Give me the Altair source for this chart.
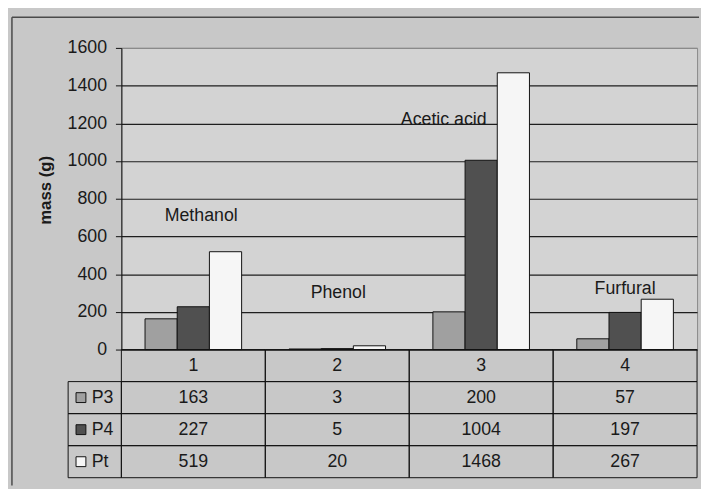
import altair as alt
import pandas as pd

# ---------------- data ----------------
categories = ["1", "2", "3", "4"]
compounds = ["Methanol", "Phenol", "Acetic acid", "Furfural"]
series = ["P3", "P4", "Pt"]
p3 = [163, 3, 200, 57]
p4 = [227, 5, 1004, 197]
pt = [519, 20, 1468, 267]
y_ticks = [0, 200, 400, 600, 800, 1000, 1200, 1400, 1600]

values = {"P3": p3, "P4": p4, "Pt": pt}

# ---------------- styles / layout ----------------
colors = ["#a0a0a0", "#505050", "#f6f6f6"]
FONT = "Arial, Liberation Sans, sans-serif"
TXT = "#1a1a1a"
label_y = {"Methanol": 706, "Phenol": 298, "Acetic acid": 1218, "Furfural": 319}
label_dx = {"Methanol": 8, "Phenol": 1, "Acetic acid": -38, "Furfural": 0}

rows = []
for s in series:
    for c, v in zip(categories, values[s]):
        rows.append({"cat": c, "series": s, "value": v})
bars_df = pd.DataFrame(rows)

color = alt.Color("series:N", scale=alt.Scale(domain=series, range=colors), legend=None)

yscale = alt.Scale(domain=[0, 1600], nice=False)
xband = alt.X("cat:N", sort=categories,
              scale=alt.Scale(domain=categories, paddingInner=0.329, paddingOuter=0.1645),
              axis=None)
yaxis = alt.Axis(values=y_ticks, format="d", labelOverlap=False, tickCount=9,
                 title="mass (g)", titleFontWeight="bold",
                 titleFontSize=17, titleFont=FONT, titleColor=TXT,
                 titleX=-77, titleY=144, titleBaseline="middle",
                 labelFont=FONT, labelFontSize=18, labelColor=TXT,
                 labelPadding=9, tickSize=6, tickColor="#111",
                 domainColor="#111", grid=True,
                 gridColor={"condition": {"test": "datum.value == 1600", "value": "#8a8a8a"},
                            "value": "#1e1e1e"},
                 gridWidth=1.2)

bars = alt.Chart(bars_df).mark_bar(stroke="#111", strokeWidth=1, opacity=1).encode(
    x=xband,
    xOffset=alt.XOffset("series:N", sort=series, scale=alt.Scale(paddingInner=0, paddingOuter=0)),
    y=alt.Y("value:Q", scale=yscale, axis=yaxis),
    color=color,
)

label_layers = []
for c, n in zip(categories, compounds):
    ldf = pd.DataFrame({"cat": [c], "name": [n], "value": [label_y[n]]})
    label_layers.append(
        alt.Chart(ldf).mark_text(dx=label_dx[n], fontSize=18, font=FONT, color=TXT,
                                 baseline="middle").encode(
            x=alt.X("cat:N"), y=alt.Y("value:Q", scale=yscale, axis=yaxis), text="name:N")
    )

# outer chart-area frame (left and top edges)
frame_df = pd.DataFrame({"k": [0]})
frame_left = alt.Chart(frame_df).mark_rule(color="#4a4a4a", strokeWidth=1.5).encode(
    x=alt.value(-111), y=alt.value(-31), y2=alt.value(444))
frame_top = alt.Chart(frame_df).mark_rule(color="#4a4a4a", strokeWidth=1.5).encode(
    x=alt.value(-111), x2=alt.value(586), y=alt.value(-31))

top = alt.layer(bars, *label_layers, frame_left, frame_top).properties(
    width=584, height=306,
    view=alt.ViewBackground(fill="#d3d3d3", stroke="#8a8a8a"),
)

# ---------------- data table ----------------
trows = []
for c in categories:
    trows.append({"cat": c, "row": "hdr", "text": c})
for s in series:
    for c, v in zip(categories, values[s]):
        trows.append({"cat": c, "row": s, "text": str(v)})
table_df = pd.DataFrame(trows)
legend_df = pd.DataFrame({"row": series, "series": series})
row_order = ["hdr"] + series

tx = alt.X("cat:N", sort=categories,
           scale=alt.Scale(domain=categories, paddingInner=0, paddingOuter=0), axis=None)
ty = alt.Y("row:N", sort=row_order,
           scale=alt.Scale(domain=row_order, paddingInner=0, paddingOuter=0), axis=None)

cells = alt.Chart(table_df).mark_rect(fill="transparent", stroke="#111", strokeWidth=1).encode(
    x=tx, y=ty)
cell_text = alt.Chart(table_df).mark_text(fontSize=18, font=FONT, color=TXT).encode(
    x=tx, y=ty, text="text:N")
leg_cells = alt.Chart(legend_df).mark_rect(fill="transparent", stroke="#111", strokeWidth=1).encode(
    x=alt.value(-54), x2=alt.value(0), y=ty)
leg_sw = alt.Chart(legend_df).mark_square(size=100, filled=True, stroke="#111",
                                          strokeWidth=1, opacity=1).encode(
    x=alt.value(-41), y=ty, color=color)
leg_txt = alt.Chart(legend_df).mark_text(align="left", fontSize=18, font=FONT, color=TXT).encode(
    x=alt.value(-30), y=ty, text="series:N")

table = alt.layer(cells, cell_text, leg_cells, leg_sw, leg_txt).properties(
    width=584, height=130,
    view=alt.ViewBackground(fill=None, stroke=None),
)

chart = alt.vconcat(top, table, spacing=0, bounds="flush").resolve_scale(
    x="independent", y="independent", color="shared"
).properties(
    background="#c8c8c8",
    padding={"left": 2, "top": 4, "right": 0, "bottom": 0},
).configure_view(stroke=None)

chart.save("out.html", embed_options={"renderer": "svg", "actions": False})
